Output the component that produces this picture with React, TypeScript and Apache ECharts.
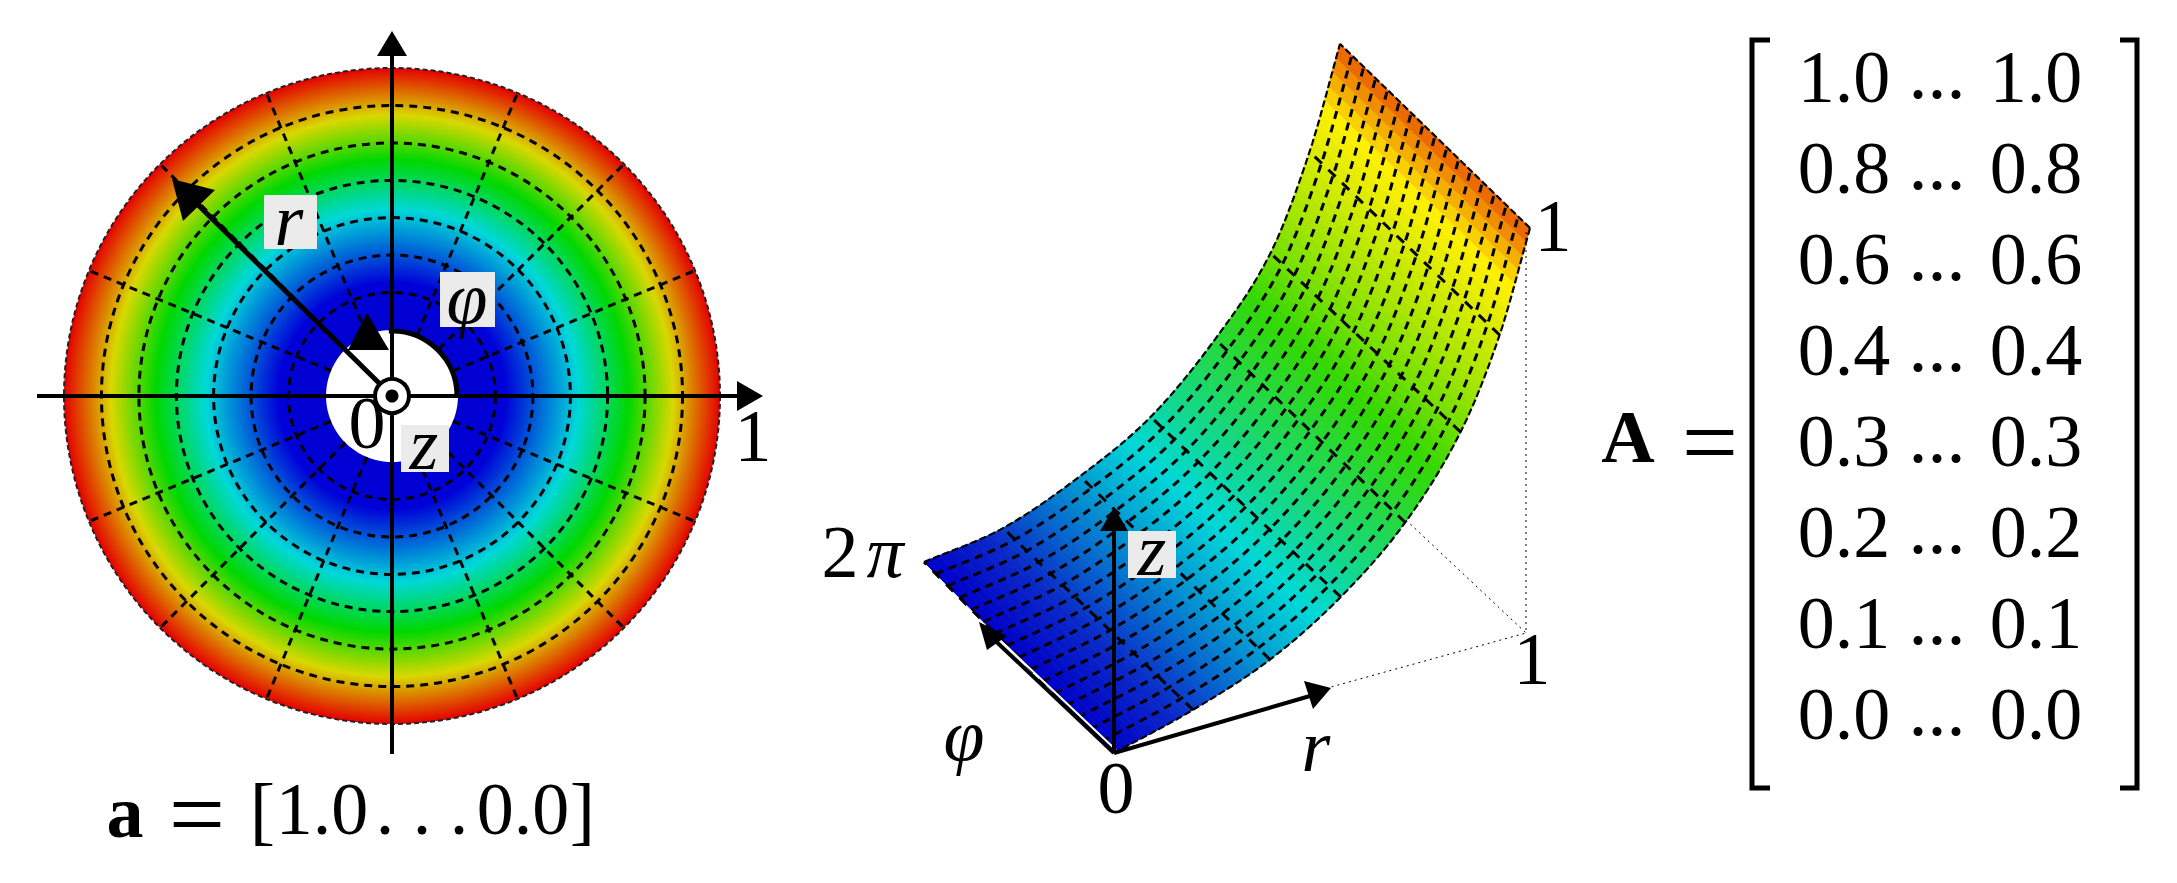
import React, { useEffect, useRef } from "react";
import * as echarts from "echarts";

// ---- data ----
const matrixValues = [1.0, 0.8, 0.6, 0.4, 0.3, 0.2, 0.1, 0.0];
const matrixColumns = [0, 1, 2];
const ringRadii = [0.143, 0.286, 0.429, 0.571, 0.714, 0.857, 1];
const spokeAngles = [0, 22.5, 45, 67.5, 90, 112.5, 135, 157.5, 180, 202.5, 225, 247.5, 270, 292.5, 315, 337.5];
const surfaceR = [0, 0.19, 0.375, 0.545, 0.7, 0.833, 0.927, 1];
const surfaceNearZ = [0, 0.05, 0.119, 0.223, 0.361, 0.545, 0.757, 1];
const surfaceFarZ = [0, 0.027, 0.1, 0.196, 0.342, 0.515, 0.738, 0.983];
const surfacePhi = [0, 0.0625, 0.125, 0.1875, 0.25, 0.3125, 0.375, 0.4375, 0.5, 0.5625, 0.625, 0.6875, 0.75, 0.8125, 0.875, 0.9375, 1];
const discColourAt = [0, 0.18, 0.46, 0.65, 0.82, 1];
const discColours = ["#0000d0", "#0000d8", "#00d8d8", "#00d800", "#d8d800", "#e40000"];
const surfaceColourAt = [0, 0.15, 0.49, 0.78, 0.96, 1];
const surfaceColours = ["#0000c8", "#0a28c8", "#00d8d8", "#34d800", "#fff000", "#e85a00"];

const SERIF = "'Liberation Serif', serif";

const hex = (c: string) => [1, 3, 5].map((i) => parseInt(c.slice(i, i + 2), 16));
function colourFor(t: number, at: number[], cols: string[]) {
  let i = 0;
  while (i < at.length - 2 && t > at[i + 1]) i++;
  const f = Math.min(1, Math.max(0, (t - at[i]) / (at[i + 1] - at[i])));
  const a = hex(cols[i]);
  const b = hex(cols[i + 1]);
  return `rgb(${a.map((v, k) => Math.round(v + (b[k] - v) * f)).join(",")})`;
}

// smooth curve through the stations (only for drawing)
function curve(r: number, ys: number[]) {
  const xs = surfaceR;
  let i = 0;
  while (i < xs.length - 2 && r > xs[i + 1]) i++;
  const h = xs[i + 1] - xs[i];
  const s = (r - xs[i]) / h;
  const slope = (k: number) => {
    if (k === 0) return (ys[1] - ys[0]) / (xs[1] - xs[0]);
    if (k === xs.length - 1) return (ys[k] - ys[k - 1]) / (xs[k] - xs[k - 1]);
    return (ys[k + 1] - ys[k - 1]) / (xs[k + 1] - xs[k - 1]);
  };
  const m0 = slope(i) * h;
  const m1 = slope(i + 1) * h;
  const s2 = s * s;
  const s3 = s2 * s;
  return (2 * s3 - 3 * s2 + 1) * ys[i] + (s3 - 2 * s2 + s) * m0 + (-2 * s3 + 3 * s2) * ys[i + 1] + (s3 - s2) * m1;
}

// oblique projection of (r, phi, z) on the surface plot's plane
function project(r: number, phi: number) {
  const z = curve(r, surfaceNearZ) * (1 - phi) + curve(r, surfaceFarZ) * phi;
  return [r * 416 - phi * 190, r * 121 + phi * 191 + z * 404];
}

const STRIPS = 110;
const SAMPLES = 60;

function App() {
  const ref = useRef<HTMLDivElement>(null);
  useEffect(() => {
    document.body.style.margin = "0";
    const chart = echarts.init(ref.current!, undefined, { renderer: "svg" });

    const txt = (text: string, x: number, y: number, fontSize = 74, extra: any = {}, z = 110) => ({
      type: "text",
      z,
      style: { text, x, y, fontFamily: SERIF, fontSize, fill: "#000", align: "center", verticalAlign: "middle", ...extra },
    });
    const seg = (x1: number, y1: number, x2: number, y2: number, lineWidth = 4, extra: any = {}, z = 100) => ({
      type: "line",
      z,
      shape: { x1, y1, x2, y2 },
      style: { stroke: "#000", lineWidth, ...extra },
    });
    const tri = (pts: number[][], z = 101) => ({ type: "polygon", z, shape: { points: pts }, style: { fill: "#000" } });
    const box = (x: number, y: number, width: number, height: number) => ({
      type: "rect",
      z: 105,
      shape: { x, y, width, height },
      style: { fill: "#ebebeb" },
    });
    const bracket = (pts: number[][]) => ({
      type: "polyline",
      z: 100,
      shape: { points: pts },
      style: { stroke: "#000", lineWidth: 5, fill: "none" },
    });

    const graphic = [
      // disc axes
      seg(37, 396, 740, 396),
      tri([[763, 396], [737, 381], [737, 411]]),
      seg(392, 754, 392, 52),
      tri([[392, 31], [377, 56], [407, 56]]),
      seg(380, 384, 190, 197, 5),
      tri([[172, 179], [215, 190], [183, 221]]),
      {
        type: "arc",
        z: 100,
        shape: { cx: 392, cy: 396, r: 65, startAngle: -Math.PI / 2 - 0.05, endAngle: 0, clockwise: true },
        style: { stroke: "#000", lineWidth: 5, fill: "none" },
      },
      tri([[367, 313], [348, 350], [389, 350]]),
      { type: "circle", z: 102, shape: { cx: 392, cy: 396, r: 17 }, style: { fill: "#fff", stroke: "#000", lineWidth: 4 } },
      { type: "circle", z: 103, shape: { cx: 392, cy: 396, r: 6.5 }, style: { fill: "#000" } },
      txt("0", 367, 423),
      txt("1", 753, 436),
      box(264, 195, 53, 54),
      txt("r", 289, 220, 74, { fontStyle: "italic" }),
      box(440, 272, 55, 55),
      txt("φ", 467, 298, 74, { fontStyle: "italic" }),
      box(401, 425, 48, 47),
      txt("z", 424, 444, 74, { fontStyle: "italic" }),
      // formula below the disc
      txt("a", 125, 812, 74, { fontWeight: "bold" }),
      txt("=", 197, 814, 100),
      txt("[", 262.5, 810, 76),
      txt("1.0", 322, 809),
      txt(". . .", 422, 809),
      txt("0.0", 523, 809),
      txt("]", 582.5, 810, 76),
      // surface annotation
      seg(1526, 232, 1526, 633, 1, { lineDash: [2, 4] }),
      seg(1406, 520, 1526, 633, 1, { lineDash: [2, 4] }),
      seg(1320, 690, 1526, 633, 1, { lineDash: [2, 4] }),
      seg(1116, 750, 985, 626, 2, { stroke: "#fff" }),
      seg(1114, 753, 985, 631),
      tri([[979, 622], [1007, 636], [987, 650]]),
      seg(1114, 753, 1114, 525),
      tri([[1114, 507], [1100, 531], [1128, 531]]),
      seg(1114, 753, 1310, 696),
      tri([[1331, 688], [1304, 681], [1313, 709]]),
      box(1128, 531, 48, 47),
      txt("z", 1152, 550, 74, { fontStyle: "italic" }),
      txt("2", 840, 552),
      txt("π", 885, 552, 74, { fontStyle: "italic" }),
      txt("1", 1553, 226),
      txt("1", 1532, 659),
      txt("0", 1116, 788),
      txt("φ", 964, 735, 74, { fontStyle: "italic" }),
      txt("r", 1316, 746, 74, { fontStyle: "italic" }),
      // matrix frame
      txt("A", 1628, 437, 74, { fontWeight: "bold" }),
      txt("=", 1710, 442, 100),
      bracket([[1770, 40], [1752, 40], [1752, 788], [1770, 788]]),
      bracket([[2120, 40], [2137, 40], [2137, 788], [2120, 788]]),
    ];

    const hiddenAxis = { show: false };
    const option: any = {
      animation: false,
      backgroundColor: "#fff",
      polar: { center: [392, 396], radius: [66, 328] },
      angleAxis: { type: "value", min: 0, max: 360, startAngle: 0, clockwise: false, ...hiddenAxis },
      radiusAxis: { type: "value", min: 0, max: 1, ...hiddenAxis },
      grid: [
        { left: 900, top: 30, width: 700, height: 730, containLabel: false },
        { left: 1844, top: 31, width: 192, height: 728 },
      ],
      xAxis: [
        { gridIndex: 0, type: "value", min: -214, max: 486, ...hiddenAxis },
        { gridIndex: 1, type: "value", min: 0, max: 2, ...hiddenAxis },
      ],
      yAxis: [
        { gridIndex: 0, type: "value", min: -7, max: 723, ...hiddenAxis },
        {
          gridIndex: 1,
          type: "category",
          inverse: true,
          data: matrixValues.map((v) => v.toFixed(1)),
          ...hiddenAxis,
        },
      ],
      graphic,
      series: [
        // disc colour
        {
          type: "custom",
          coordinateSystem: "polar",
          silent: true,
          z: 1,
          data: [[1, 0]],
          renderItem: (params: any) => {
            const cs = params.coordSys;
            const r0 = cs.r0;
            const stops = discColourAt.map((t, i) => ({
              offset: (r0 + (cs.r - r0) * t) / cs.r,
              color: discColours[i],
            }));
            return {
              type: "ring",
              shape: { cx: cs.cx, cy: cs.cy, r: cs.r, r0 },
              style: { fill: new echarts.graphic.RadialGradient(0.5, 0.5, 0.5, stops) },
            };
          },
        },
        // disc rings
        {
          type: "custom",
          coordinateSystem: "polar",
          silent: true,
          z: 2,
          data: ringRadii.map((r) => [r, 0]),
          renderItem: (params: any, api: any) => {
            const cs = params.coordSys;
            const p = api.coord([api.value(0), 0]);
            const outer = params.dataIndex === ringRadii.length - 1;
            return {
              type: "circle",
              shape: { cx: cs.cx, cy: cs.cy, r: Math.hypot(p[0] - cs.cx, p[1] - cs.cy) },
              style: {
                fill: "none",
                stroke: outer ? "#222" : "#000",
                lineWidth: outer ? 2 : 3,
                lineDash: outer ? [5, 3] : [8, 6],
              },
            };
          },
        },
        // disc spokes
        {
          type: "custom",
          coordinateSystem: "polar",
          silent: true,
          z: 2,
          data: spokeAngles.map((a) => [0, a]),
          renderItem: (_: any, api: any) => {
            const a = api.coord([0, api.value(1)]);
            const b = api.coord([1, api.value(1)]);
            return {
              type: "line",
              shape: { x1: a[0], y1: a[1], x2: b[0], y2: b[1] },
              style: { stroke: "#000", lineWidth: 3, lineDash: [8, 6] },
            };
          },
        },
        // surface colour strips
        {
          type: "custom",
          xAxisIndex: 0,
          yAxisIndex: 0,
          silent: true,
          z: 1,
          clip: false,
          data: Array.from({ length: STRIPS }, (_, i) => [i, 0]),
          renderItem: (_: any, api: any) => {
            const i = api.value(0);
            const r1 = i / STRIPS;
            const r2 = (i + 1) / STRIPS;
            const c = colourFor((r1 + r2) / 2, surfaceColourAt, surfaceColours);
            const pts = [project(r1, 0), project(r2, 0), project(r2, 1), project(r1, 1)].map((p) => api.coord(p));
            return { type: "polygon", shape: { points: pts }, style: { fill: c, stroke: c, lineWidth: 1 } };
          },
        },
        // surface lines at constant phi
        {
          type: "custom",
          xAxisIndex: 0,
          yAxisIndex: 0,
          silent: true,
          z: 2,
          clip: false,
          data: surfacePhi.map((p) => [p, 0]),
          renderItem: (params: any, api: any) => {
            const phi = api.value(0);
            const edge = params.dataIndex === 0 || params.dataIndex === surfacePhi.length - 1;
            const pts = Array.from({ length: SAMPLES + 1 }, (_, k) => api.coord(project(k / SAMPLES, phi)));
            return {
              type: "polyline",
              shape: { points: pts },
              style: { fill: "none", stroke: "#000", lineWidth: edge ? 2.2 : 3, lineDash: edge ? [7, 3] : [8, 6] },
            };
          },
        },
        // surface lines at constant r
        {
          type: "custom",
          xAxisIndex: 0,
          yAxisIndex: 0,
          silent: true,
          z: 2,
          clip: false,
          data: surfaceR.map((r) => [r, 0]),
          renderItem: (params: any, api: any) => {
            const r = api.value(0);
            const a = api.coord(project(r, 0));
            const b = api.coord(project(r, 1));
            const edge = params.dataIndex === surfaceR.length - 1;
            return {
              type: "line",
              shape: { x1: a[0], y1: a[1], x2: b[0], y2: b[1] },
              style: { stroke: "#000", lineWidth: edge ? 2.2 : 3, lineDash: edge ? [7, 3] : [10, 9] },
            };
          },
        },
        // matrix entries
        {
          type: "custom",
          xAxisIndex: 1,
          yAxisIndex: 1,
          silent: true,
          z: 3,
          clip: false,
          data: matrixValues.flatMap((_, row) => matrixColumns.map((c) => [c, row])),
          renderItem: (_: any, api: any) => {
            const col = api.value(0);
            const row = api.value(1);
            const p = api.coord([col, row]);
            return {
              type: "text",
              style: {
                text: col === 1 ? "..." : matrixValues[row].toFixed(1),
                x: col === 1 ? p[0] - 3 : p[0],
                y: col === 1 ? p[1] - 5 : p[1],
                fontFamily: SERIF,
                fontSize: col === 1 ? 76 : 74,
                fill: "#000",
                align: "center",
                verticalAlign: "middle",
              },
            };
          },
        },
      ],
    };
    chart.setOption(option);
    return () => chart.dispose();
  }, []);
  return <div ref={ref} style={{ position: "absolute", left: 0, top: 0, width: 2177, height: 883 }} />;
}

export default App;
